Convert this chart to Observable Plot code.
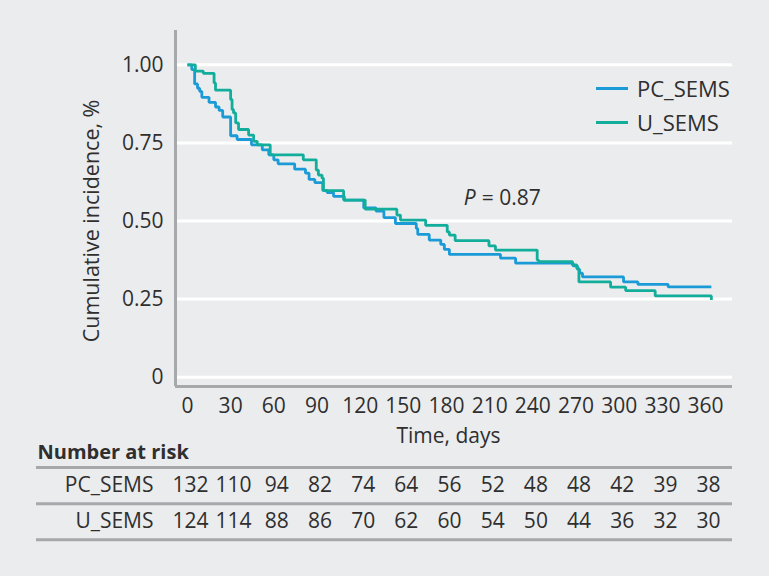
<!DOCTYPE html>
<html>
<head>
<meta charset="utf-8">
<script src="https://cdn.jsdelivr.net/npm/d3@7"></script>
<script src="https://cdn.jsdelivr.net/npm/@observablehq/plot@0.6"></script>
<style>
  html, body { margin: 0; padding: 0; background: #ebeced; }
  #chart { position: relative; width: 769px; height: 576px; font-family: "Open Sans", sans-serif; color: #333; }
  #chart svg { position: absolute; left: 0; }
  .legend { position: absolute; left: 596px; top: 71px; font-size: 22px; line-height: 34px; }
  .legend .item { display: flex; align-items: center; white-space: nowrap; }
  .legend .sw { display: inline-block; width: 32px; height: 3px; margin-right: 9px; }
</style>
</head>
<body>
<div id="chart"></div>
<script>
// Kaplan–Meier style step curves for the two stent groups
const groups = ["PC_SEMS", "U_SEMS"];
const groupColors = ["#1b9ad8", "#13ad9b"];

const pcDays = [0, 3, 5, 7, 8.5, 10, 15, 19.5, 22, 24.5, 30, 34.5, 44.5, 52, 56.5, 60, 63, 74.5, 82, 84.5, 88.5, 94, 97, 101.5, 109, 122.5, 131, 136.5, 144.5, 159, 160, 168, 176, 178.5, 182, 217.5, 228, 268, 271, 272.5, 274.5, 303, 313, 334, 364];
const pcSurv = [1.000, 0.985, 0.939, 0.925, 0.915, 0.896, 0.880, 0.865, 0.854, 0.833, 0.773, 0.761, 0.744, 0.728, 0.712, 0.696, 0.683, 0.666, 0.653, 0.633, 0.623, 0.598, 0.591, 0.579, 0.567, 0.542, 0.532, 0.511, 0.492, 0.476, 0.457, 0.439, 0.425, 0.409, 0.393, 0.381, 0.365, 0.356, 0.345, 0.333, 0.321, 0.305, 0.297, 0.289, 0.289];

const uDays = [0, 5.5, 11, 18.5, 19.5, 30, 31, 32, 33.5, 35.5, 42.5, 46, 48.5, 57.5, 80.5, 89.5, 91, 93.5, 94.5, 108.5, 123.5, 145.5, 148, 165.5, 180.5, 182, 186, 209.5, 214, 243, 244, 267.5, 270.5, 272, 294, 304.5, 325, 364];
const uSurv = [1.000, 0.980, 0.973, 0.942, 0.919, 0.889, 0.857, 0.846, 0.814, 0.793, 0.775, 0.755, 0.744, 0.712, 0.696, 0.663, 0.647, 0.637, 0.597, 0.567, 0.538, 0.519, 0.503, 0.486, 0.465, 0.455, 0.437, 0.420, 0.407, 0.375, 0.370, 0.359, 0.348, 0.305, 0.288, 0.277, 0.260, 0.247];

// Number at risk
const riskTimes = [0, 30, 60, 90, 120, 150, 180, 210, 240, 270, 300, 330, 360];
const pcRisk = [132, 110, 94, 82, 74, 64, 56, 52, 48, 48, 42, 39, 38];
const uRisk = [124, 114, 88, 86, 70, 62, 60, 54, 50, 44, 36, 32, 30];

const xTicks = riskTimes;
const yTicks = [0, 0.25, 0.5, 0.75, 1];
const xDomain = [-8.3, 378.7];
const yDomain = [-0.03, 1.11];

const pValue = 0.87;
const pAt = {day: 192, surv: 0.572};

const axisGray = "#a6a8ab";
const textColor = "#2f2f2f";
const font = "'Open Sans', sans-serif";

const curves = [
  ...pcDays.map((d, i) => ({group: groups[0], day: d, surv: pcSurv[i]})),
  ...uDays.map((d, i) => ({group: groups[1], day: d, surv: uSurv[i]}))
];

const riskRows = [
  ...riskTimes.map((t, i) => ({row: 0, time: t, n: pcRisk[i]})),
  ...riskTimes.map((t, i) => ({row: 1, time: t, n: uRisk[i]}))
];

const chart = document.getElementById("chart");

const main = Plot.plot({
  width: 769,
  height: 448,
  marginLeft: 175,
  marginRight: 37,
  marginTop: 30,
  marginBottom: 62,
  style: {background: "transparent", fontFamily: font, fontSize: "21px", color: textColor, overflow: "visible"},
  x: {domain: xDomain},
  y: {domain: yDomain},
  color: {domain: groups, range: groupColors},
  marks: [
    Plot.gridY(yTicks, {stroke: "#fff", strokeOpacity: 1, strokeWidth: 3}),
    Plot.ruleX([xDomain[0]], {stroke: axisGray, strokeWidth: 3}),
    Plot.ruleY([yDomain[0]], {stroke: axisGray, strokeWidth: 3}),
    Plot.axisY(yTicks, {tickSize: 0, tickPadding: 12, label: null,
      tickFormat: d => d === 0 ? "0" : d3.format(".2f")(d)}),
    Plot.axisX(xTicks, {tickSize: 0, tickPadding: 12, label: null}),
    Plot.text(["Cumulative incidence, %"], {
      y: () => d3.mean(yTicks), frameAnchor: "left", textAnchor: "middle",
      dx: -83, rotate: -90, fontSize: 21.5
    }),
    Plot.text(["Time, days"], {
      x: () => d3.mean(d3.extent(xTicks)), frameAnchor: "bottom", lineAnchor: "bottom",
      textAnchor: "middle", dy: 56.5, dx: 2
    }),
    Plot.line(curves, {
      x: "day", y: "surv", z: "group", stroke: "group", curve: "step-after",
      strokeWidth: 2.8, strokeLinejoin: "miter", strokeLinecap: "butt"
    }),
    Plot.text(["P"], {x: () => pAt.day, y: () => pAt.surv, textAnchor: "start", fontStyle: "italic"}),
    Plot.text([`= ${pValue.toFixed(2)}`], {x: () => pAt.day, y: () => pAt.surv, textAnchor: "start", dx: 18})
  ]
});
main.style.top = "0px";
chart.appendChild(main);

// Legend
const legend = document.createElement("div");
legend.className = "legend";
legend.style.color = textColor;
groups.forEach((g, i) => {
  const item = document.createElement("div");
  item.className = "item";
  const sw = document.createElement("span");
  sw.className = "sw";
  sw.style.background = groupColors[i];
  item.appendChild(sw);
  item.appendChild(document.createTextNode(g));
  legend.appendChild(item);
});
chart.appendChild(legend);

// Number-at-risk table sharing the time scale
const table = Plot.plot({
  width: 769,
  height: 112,
  marginLeft: 36,
  marginRight: 37,
  marginTop: 31,
  marginBottom: 8,
  style: {background: "transparent", fontFamily: font, fontSize: "21px", color: textColor, overflow: "visible"},
  x: {domain: xDomain, range: [175, 732], axis: null},
  y: {domain: [0, 2], range: [31, 103.3], axis: null},
  marks: [
    Plot.ruleY([0, 1, 2], {stroke: axisGray, strokeWidth: 3}),
    Plot.text(["Number at risk"], {frameAnchor: "top-left", lineAnchor: "bottom", textAnchor: "start",
      dx: 1, dy: -9, fontWeight: "bold", fontSize: 20}),
    Plot.text(groups, {y: (d, i) => i + 0.5, frameAnchor: "left", textAnchor: "end", dx: 117}),
    Plot.text(riskRows, {x: "time", y: d => d.row + 0.5, text: "n", dx: 3})
  ]
});
table.style.top = "436px";
chart.appendChild(table);
</script>
</body>
</html>
